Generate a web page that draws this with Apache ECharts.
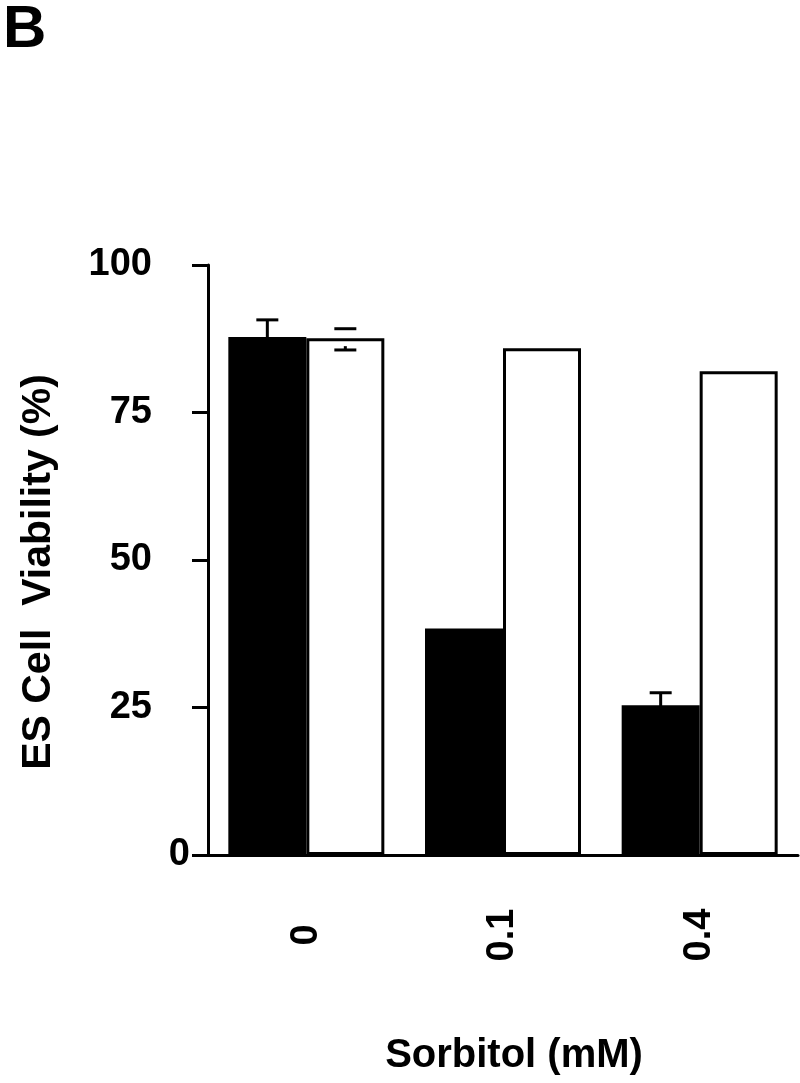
<!DOCTYPE html>
<html>
<head>
<meta charset="utf-8">
<script src="https://cdn.jsdelivr.net/npm/echarts@6/dist/echarts.min.js"></script>
<style>
html,body{margin:0;padding:0;background:#fff;}
#chart{width:800px;height:1083px;}
</style>
</head>
<body>
<div id="chart"></div>
<script>
// ---- data ----
var categories = ['0', '0.1', '0.4'];
var yTicks = [0, 25, 50, 75, 100];
var blackValues = [87.8, 38.4, 25.4];
var blackErrHigh = [90.7, null, 27.5];
var blackErrLow = [84.9, null, 23.3];
var whiteValues = [87.6, 85.9, 82.0];
var whiteErrHigh = [89.2, null, null];
var whiteErrLow = [85.6, null, null];

var FONT = '"Liberation Sans", Arial, Helvetica, sans-serif';
var BAR_W = 78;

function errData(values, high, low) {
  var out = [];
  for (var i = 0; i < high.length; i++) {
    if (high[i] != null) out.push([i, low[i], high[i], values[i]]);
  }
  return out;
}

function errRender(offsetSign, stemAboveBar) {
  return function (params, api) {
    var ci = api.value(0);
    var lo = api.coord([ci, api.value(1)]);
    var hi = api.coord([ci, api.value(2)]);
    var top = api.coord([ci, api.value(3)]);
    var x = lo[0] + offsetSign * BAR_W / 2;
    var half = 11;
    var st = { stroke: '#000', lineWidth: 3 };
    var stemTop = stemAboveBar ? hi[1] : Math.max(hi[1], top[1] + 8);
    return {
      type: 'group',
      children: [
        { type: 'line', shape: { x1: x, y1: lo[1], x2: x, y2: stemTop }, style: st },
        { type: 'line', shape: { x1: x - half, y1: hi[1], x2: x + half, y2: hi[1] }, style: st },
        { type: 'line', shape: { x1: x - half, y1: lo[1], x2: x + half, y2: lo[1] }, style: st }
      ]
    };
  };
}

var chart = echarts.init(document.getElementById('chart'), null, { renderer: 'canvas' });
chart.setOption({
  backgroundColor: '#fff',
  animation: false,
  graphic: [{
    type: 'text', left: 3, top: 0,
    style: { text: 'B', font: 'bold 60px ' + FONT, fill: '#000' }
  }],
  grid: { left: 208, right: 2, top: 265, bottom: 228, containLabel: false, outerBoundsMode: 'none' },
  xAxis: {
    type: 'category',
    data: categories,
    boundaryGap: true,
    name: 'Sorbitol (mM)',
    nameLocation: 'middle',
    nameGap: 181,
    nameTextStyle: { fontFamily: FONT, fontWeight: 'bold', fontSize: 40, color: '#000', padding: [0, 0, 0, 22] },
    axisLine: { lineStyle: { color: '#000', width: 3 } },
    axisTick: { alignWithLabel: true, length: 16, lineStyle: { color: '#000', width: 3 } },
    axisLabel: {
      rotate: 90, margin: 80, align: 'center', verticalAlign: 'middle',
      fontFamily: FONT, fontWeight: 'bold', fontSize: 38, color: '#000'
    },
    splitLine: { show: false }
  },
  yAxis: {
    type: 'value',
    min: 0, max: 100, interval: 25,
    name: 'ES Cell  Viability (%)',
    nameLocation: 'middle',
    nameGap: 149,
    nameRotate: 90,
    nameTextStyle: { fontFamily: FONT, fontWeight: 'bold', fontSize: 41, color: '#000', padding: [0, 24, 0, 0] },
    axisLine: { show: true, lineStyle: { color: '#000', width: 3 } },
    axisTick: { show: true, length: 16, lineStyle: { color: '#000', width: 3 } },
    axisLabel: {
      margin: 18,
      fontFamily: FONT, fontWeight: 'bold', fontSize: 38, color: '#000',
      formatter: function (v) { return v === 0 ? '{z|0}' : '{n|' + v + '}'; },
      rich: {
        z: { fontFamily: FONT, fontWeight: 'bold', fontSize: 38, color: '#000' },
        n: { fontFamily: FONT, fontWeight: 'bold', fontSize: 38, color: '#000', padding: [0, 38, 0, 0] }
      }
    },
    splitLine: { show: false }
  },
  series: [
    {
      type: 'bar', data: blackValues, barWidth: BAR_W, barGap: '0%',
      itemStyle: { color: '#000', borderColor: '#000', borderWidth: 0 }, z: 2
    },
    {
      type: 'bar', data: whiteValues, barWidth: BAR_W, barGap: '0%',
      itemStyle: { color: '#fff', borderColor: '#000', borderWidth: 3 }, z: 2
    },
    {
      type: 'custom', data: errData(blackValues, blackErrHigh, blackErrLow),
      renderItem: errRender(-1, true), z: 3, encode: { x: 0, y: [1, 2] }
    },
    {
      type: 'custom', data: errData(whiteValues, whiteErrHigh, whiteErrLow),
      renderItem: errRender(1, false), z: 3, encode: { x: 0, y: [1, 2] }
    }
  ]
});
</script>
</body>
</html>
